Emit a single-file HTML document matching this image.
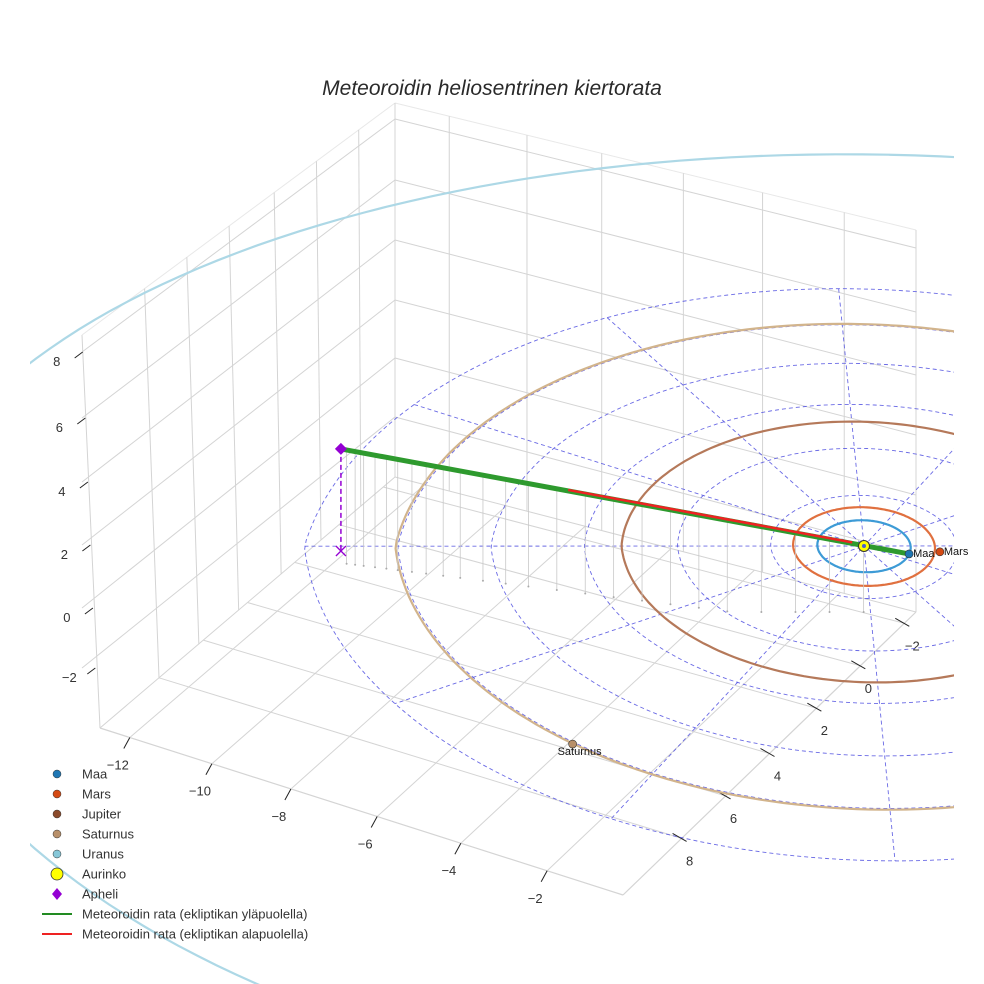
<!DOCTYPE html>
<html><head><meta charset="utf-8"><style>
html,body{margin:0;padding:0;background:#fff;overflow:hidden;width:984px;height:984px;}
svg{display:block;font-family:"Liberation Sans",sans-serif;}
</style></head><body>
<svg id="chart" width="984" height="984" viewBox="0 0 984 984" xmlns="http://www.w3.org/2000/svg">
<defs><clipPath id="clipR"><rect x="30" y="0" width="924" height="984"/></clipPath></defs>
<text x="492" y="95" text-anchor="middle" font-size="21" font-style="italic" fill="#2a2a2a">Meteoroidin heliosentrinen kiertorata</text>
<g id="box"></g>
<g id="eclip" clip-path="url(#clipR)"></g>
<g id="orbits" clip-path="url(#clipR)"></g>
<g id="path"></g>
<g id="marks"></g>
<g id="legend"></g>
</svg>
<script>
// ---- data ----
const planetNames = ["Maa","Mars","Jupiter","Saturnus","Uranus"];
const orbitRadii = [1.0, 1.52, 5.2, 10.05, 19.2];
const planetX = [0.97, 1.5, 6.5, -1.83, 18.0];
const planetY = [-0.23, -0.64, -6.0, 9.9, -7.0];
const planetColors = ["#1f77b4","#d44a14","#8b4a2b","#b8906a","#87c7d8"];
const orbitColors = ["#3d9bd6","#e0703f","#b5795a","#d2b48c","#add8e6"];
const gridRadii = [2,4,6,8,10,12];
const spokeAngles = [-31,-1,29,59,89,119];
const apheli = [-9.53, 5.94, 3.24];
const perihelion = [0.97, -0.23, 0.0];
const redStart = 0.40, redEnd = 0.90;
const dropFractions = [0.01,0.025,0.04,0.06,0.08,0.1,0.125,0.15,0.18,0.21,0.25,0.29,0.33,0.38,0.43,0.48,0.53,0.58,0.63,0.68,0.74,0.8,0.86,0.92];
const xTickLabels = ["−12","−10","−8","−6","−4","−2"];
const yTickLabels = ["−2","0","2","4","6","8"];
const zTickLabels = ["8","6","4","2","0","−2"];

const NS="http://www.w3.org/2000/svg";
function mk(tag,attrs,parent){const e=document.createElementNS(NS,tag);for(const k in attrs)e.setAttribute(k,attrs[k]);parent.appendChild(e);return e;}
function projBase(x,y,z){let dx=41.3*x-21.8*y, dy=13.5*x+22.5*y; if(dy<0){const s=1/(1-0.00071*dy);dx*=s;dy*=s;} return [864+dx,546+dy-31.5*z];}
function proj(x,y,z){
  const b=projBase(x,y,z);const r=Math.hypot(x,y);
  if(r<=13) return b;
  const ex=Math.min(1,(r-13)/(19.2-13));
  const u=(41.3*x-21.8*y)/46.7/19.2, v=(13.5*x+22.5*y)/26.2/19.2;
  const o=[900+1006*u,617+(v>0?500:462)*v-31.5*z];
  return [b[0]+(o[0]-b[0])*ex,b[1]+(o[1]-b[1])*ex];
}
function lerp(a,b,t){return [a[0]+(b[0]-a[0])*t,a[1]+(b[1]-a[1])*t];}

// ---- box ----
const box=document.getElementById('box');
const A=[100,728],B=[623,895],C=[916,612],D=[395,477];
const TL=[82,335],TB=[395,103],TR=[916,230];
function ln(p,q,c,w,g,name){const e=mk('line',{x1:p[0],y1:p[1],x2:q[0],y2:q[1],stroke:c,'stroke-width':w},g);return e;}
const xFr=[0.057,0.214,0.365,0.53,0.69,0.855];
const yFr=[0.04,0.19,0.34,0.5,0.65,0.8];
const zL=[352,418,482,545,608,668], zB=[119,180,240,300,358,417], zR=[248,312,375,435,495,555];
const gc="#d4d4d4";
ln(TL,[A[0],A[1]],gc,1,box,'left-wall-edge');ln(TL,TB,"#e8e8e8",1,box,'top-edge');ln(TB,TR,"#e8e8e8",1,box,'top-edge');
ln(TB,D,gc,1,box,'back-corner-edge');ln(TR,C,gc,1,box,'right-wall-edge');
ln(A,B,gc,1.2,box,'floor-front-edge');ln(B,C,gc,1.2,box,'floor-right-edge');ln(A,D,gc,1,box,'floor-left-edge');ln(D,C,gc,1,box,'floor-back-edge');
for(let i=0;i<6;i++){
  ln([82,zL[i]],[395,zB[i]],gc,1,box,'left-wall-gridline');
  ln([395,zB[i]],[916,zR[i]],gc,1,box,'back-wall-gridline');
  const p=lerp(A,B,xFr[i]),q=lerp(D,C,xFr[i]);ln(p,q,gc,1,box,'floor-x-gridline');
  const tp=lerp(TB,TR,xFr[i]*0.95+0.05);ln([tp[0],tp[1]],lerp(D,C,xFr[i]*0.95+0.05),gc,1,box,'back-wall-vertical');
  const r=lerp(D,A,yFr[i]),s=lerp(C,B,yFr[i]);ln(r,s,gc,1,box,'floor-y-gridline');
  const tl=lerp(TB,TL,yFr[i]*0.9+0.08);ln(tl,lerp(D,A,yFr[i]*0.9+0.08),gc,1,box,'left-wall-vertical');
  const xt=lerp(A,B,xFr[i]);ln(xt,[xt[0]-6,xt[1]+11],"#222",1,box,'x-tick');
  let t=mk('text',{x:xt[0]-12,y:xt[1]+32,'font-size':13,fill:"#333",'text-anchor':'middle'},box);t.textContent=xTickLabels[i];
  
  const yt=lerp(C,B,yFr[i]);ln([yt[0]-9,yt[1]-5],[yt[0]+5,yt[1]+3],"#222",1,box,'y-tick');
  t=mk('text',{x:yt[0]+8,y:yt[1]+27,'font-size':13,fill:"#333",'text-anchor':'middle'},box);t.textContent=yTickLabels[i];
  
  ln([82+0.04*(zL[i]-335),zL[i]],[74+0.04*(zL[i]-335),zL[i]+6],"#222",1,box,'z-tick');
  t=mk('text',{x:56+0.04*(zL[i]-335),y:zL[i]+14,'font-size':13,fill:"#333",'text-anchor':'middle'},box);t.textContent=zTickLabels[i];
  
}

// ---- ecliptic grid ----
const ec=document.getElementById('eclip');
function ellPts(r,z){const pts=[];for(let k=0;k<=240;k++){const a=k/240*2*Math.PI;pts.push(proj(r*Math.cos(a),r*Math.sin(a),z||0));}return pts.map(p=>p[0].toFixed(1)+','+p[1].toFixed(1)).join(' ');}
gridRadii.forEach(r=>{const e=mk('polyline',{points:ellPts(r),fill:'none',stroke:'#5050e0','stroke-width':0.9,'stroke-dasharray':'4,3',opacity:0.85},ec);});
const rMax=gridRadii[gridRadii.length-1];
spokeAngles.forEach(a=>{const c=Math.cos(a*Math.PI/180),s=Math.sin(a*Math.PI/180);const p=proj(-rMax*c,-rMax*s,0),q=proj(rMax*c,rMax*s,0);
 const e=mk('line',{x1:p[0],y1:p[1],x2:q[0],y2:q[1],stroke:'#5050e0','stroke-width':0.9,'stroke-dasharray':'4,3',opacity:0.85},ec);});

// ---- orbits ----
const og=document.getElementById('orbits');
orbitRadii.forEach((r,i)=>{const e=mk('polyline',{points:ellPts(r),fill:'none',stroke:orbitColors[i],'stroke-width':2.2},og);});

// ---- meteoroid path ----
const pg=document.getElementById('path');
function pathPt(t){return proj(apheli[0]+(perihelion[0]-apheli[0])*t,apheli[1]+(perihelion[1]-apheli[1])*t,apheli[2]+(perihelion[2]-apheli[2])*t);}
function eclPt(t){return proj(apheli[0]+(perihelion[0]-apheli[0])*t,apheli[1]+(perihelion[1]-apheli[1])*t,0);}
dropFractions.forEach(t=>{const p=pathPt(t),q=eclPt(t);const bot=Math.min(612,q[1]+12+(p[0]-341)*0.12);
 const e=mk('line',{x1:p[0],y1:p[1],x2:p[0],y2:bot,stroke:'#c8c8c8','stroke-width':0.8},pg);
 const d=mk('circle',{cx:p[0],cy:bot,r:1,fill:'#aaa'},pg);});
const P0=pathPt(0),P1=pathPt(1),R0=pathPt(redStart),R1=pathPt(redEnd),E0=eclPt(0);
let e=mk('line',{x1:P0[0],y1:P0[1],x2:E0[0],y2:E0[1],stroke:'#9400d3','stroke-width':1.5,'stroke-dasharray':'5,3'},pg);
e=mk('line',{x1:P0[0],y1:P0[1],x2:P1[0],y2:P1[1],stroke:'#2e9a2e','stroke-width':5},pg);
e=mk('line',{x1:R0[0],y1:R0[1]-1,x2:R1[0],y2:R1[1]-1,stroke:'#ee2222','stroke-width':2.5},pg);

// ---- markers ----
const mg=document.getElementById('marks');
[0,1,3].forEach(i=>{const p=proj(planetX[i],planetY[i],0);
 const c=mk('circle',{cx:p[0],cy:p[1],r:4,fill:planetColors[i],stroke:'#333','stroke-width':0.6},mg);
 const t=mk('text',{x:p[0]+(i==3?-15:4),y:p[1]+(i==3?11:3),'font-size':11,fill:'#111'},mg);t.textContent=planetNames[i];});
const S=proj(0,0,0);
e=mk('circle',{cx:S[0],cy:S[1],r:5.5,fill:'#ffff00',stroke:'#333','stroke-width':1},mg);
e=mk('circle',{cx:S[0],cy:S[1],r:2,fill:'#4a5fd0'},mg);
e=mk('path',{d:`M${P0[0]},${P0[1]-6} l6,6 l-6,6 l-6,-6z`,fill:'#9400d3'},mg);
e=mk('path',{d:`M${E0[0]-5},${E0[1]-5} l10,10 M${E0[0]+5},${E0[1]-5} l-10,10`,stroke:'#9400d3','stroke-width':1.3},mg);

// ---- legend ----
const lg=document.getElementById('legend');
const legendLabels=["Maa","Mars","Jupiter","Saturnus","Uranus","Aurinko","Apheli","Meteoroidin rata (ekliptikan yläpuolella)","Meteoroidin rata (ekliptikan alapuolella)"];
legendLabels.forEach((lab,i)=>{const y=774+i*20;let m;
 if(i<5){m=mk('circle',{cx:57,cy:y,r:4,fill:planetColors[i],stroke:'#333','stroke-width':0.5},lg);}
 else if(i==5){m=mk('circle',{cx:57,cy:y,r:6,fill:'#ffff00',stroke:'#333','stroke-width':0.8},lg);}
 else if(i==6){m=mk('path',{d:`M57,${y-6} l5,6 l-5,6 l-5,-6z`,fill:'#9400d3'},lg);}
 else{m=mk('line',{x1:42,y1:y,x2:72,y2:y,stroke:i==7?'#228b22':'#ee2222','stroke-width':2},lg);}
 
 const t=mk('text',{x:82,y:y+4.5,'font-size':13,fill:'#333'},lg);t.textContent=lab;
 });
</script>
</body></html>
